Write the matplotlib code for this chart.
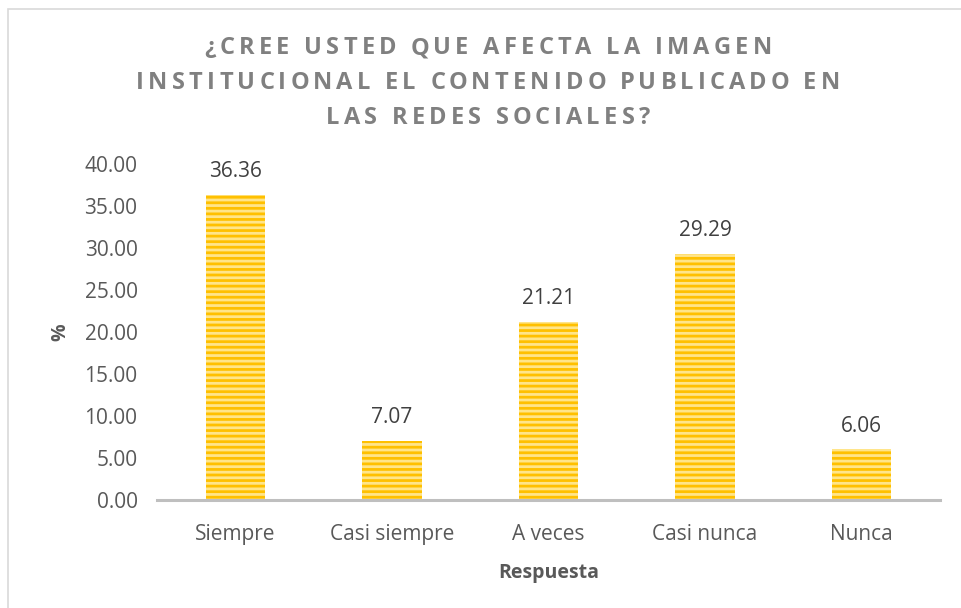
import matplotlib.pyplot as plt
from matplotlib.patches import Rectangle

categorias = ["Siempre", "Casi siempre", "A veces", "Casi nunca", "Nunca"]
porcentajes = [36.36, 7.07, 21.21, 29.29, 6.06]
ticks_y = [0, 5, 10, 15, 20, 25, 30, 35, 40]
titulo = ["¿CREE USTED QUE AFECTA LA IMAGEN",
          "INSTITUCIONAL EL CONTENIDO PUBLICADO EN",
          "LAS REDES SOCIALES?"]

plt.rcParams['font.family'] = ['Open Sans', 'DejaVu Sans']
plt.rcParams['hatch.linewidth'] = 2.0

W, H = 962, 608
fig = plt.figure(figsize=(W / 100, H / 100), dpi=100)
ax = fig.add_axes([157 / W, 1 - 500 / H, (940 - 157) / W, (500 - 164) / H])

x = list(range(len(categorias)))
ax.bar(x, porcentajes, width=0.38, color='#FFE58A', edgecolor='#FFC000',
       hatch='---', linewidth=0)

for xi, v in zip(x, porcentajes):
    ax.annotate(f"{v:.2f}", (xi, v), xytext=(0, 9), textcoords='offset points',
                ha='center', va='bottom', fontsize=15, color='#404040')

ax.set_xlim(-0.5, len(categorias) - 0.5)
ax.set_ylim(0, 40)
ax.set_yticks(ticks_y)
ax.set_yticklabels([f"{t:.2f}" for t in ticks_y])
ax.set_xticks(x)
ax.set_xticklabels(categorias)
ax.tick_params(axis='both', length=0, labelsize=15, colors='#595959')
ax.tick_params(axis='x', pad=17)
ax.tick_params(axis='y', pad=14)

for s in ['top', 'right', 'left']:
    ax.spines[s].set_visible(False)
ax.spines['bottom'].set_color('#BFBFBF')
ax.spines['bottom'].set_linewidth(2.2)

ax.set_xlabel("Respuesta", fontsize=14, fontweight='bold', color='#595959', labelpad=13)
ax.set_ylabel("%", fontsize=14, fontweight='bold', color='#595959', labelpad=10)

# titulo con espaciado entre letras
fig.canvas.draw()
r = fig.canvas.get_renderer()
tkw = dict(fontsize=17, fontweight='bold', color='#808080')
espacio = 4.3


def ancho(s):
    t = fig.text(0, 0, s, **tkw)
    w = t.get_window_extent(r).width
    t.remove()
    return w


base = ancho("XX")
for i, linea in enumerate(titulo):
    anchos = [ancho("X" + ch + "X") - base for ch in linea]
    total = sum(anchos) + espacio * (len(linea) - 1)
    px = 488 - total / 2
    py = 48 + 35 * i
    for ch, w in zip(linea, anchos):
        if ch != " ":
            fig.text(px / W, 1 - py / H, ch, ha='left', va='center', **tkw)
        px += w + espacio

fig.patches.append(Rectangle((8 / W, -0.1), 1.2, 1 - 9 / H + 0.1, transform=fig.transFigure,
                             fill=False, edgecolor='#D9D9D9', linewidth=1.2))

fig.savefig("out.png", dpi=100)
plt.close()
